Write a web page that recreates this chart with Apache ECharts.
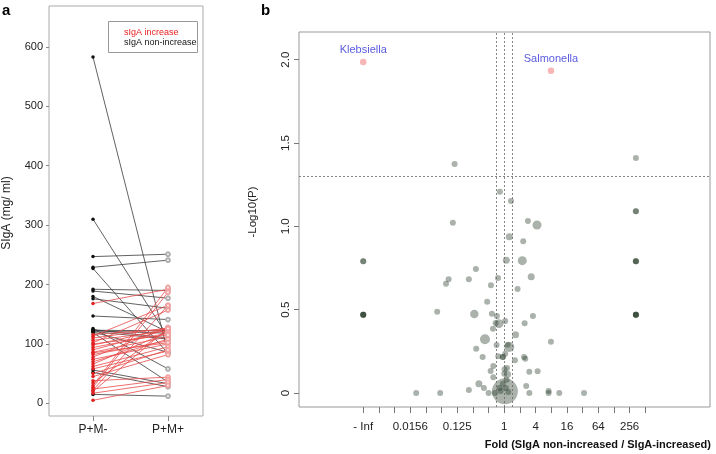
<!DOCTYPE html>
<html><head><meta charset="utf-8">
<script src="https://cdn.jsdelivr.net/npm/echarts@6.0.0/dist/echarts.min.js"></script>
<style>html,body{margin:0;padding:0;background:#fff}#c{width:716px;height:454px}</style>
</head><body><div id="c"></div>
<script>
// ---- Panel a: paired SIgA values (P+M- -> P+M+) ----
const categories = ['P+M-', 'P+M+'];
const nonIncBefore = [583, 310, 247, 229, 227, 192, 189, 180, 176, 147, 126, 124, 123, 122, 121, 119, 120, 56, 52, 15];
const nonIncAfter  = [ 85, 112, 251, 241,  84, 190, 177, 120, 160, 141,  58, 110, 122, 118, 108,  36,  86, 33, 28, 12];
const incBefore = [168, 116, 113, 110, 106, 102, 98, 94, 90, 86, 82, 78, 74, 70, 66, 62, 58, 50, 45, 38, 34, 30, 27, 24, 22, 20, 17, 5, 100, 85];
const incAfter  = [192, 125, 165, 127, 122, 157, 126, 118, 124, 112, 105, 128, 100, 108, 120, 95, 88, 90, 82, 44, 125, 195, 187, 40, 165, 126, 35, 30, 115, 102];
const leftTicks = [0, 100, 200, 300, 400, 500, 600];

// ---- Panel b: volcano-like plot ----
const foldLog2 = [Infinity, -3.17, -0.28, 0.43, Infinity, Infinity, -3.28, 1.51, 2.09, 0.32, 1.21,
  -Infinity, -Infinity, Infinity, Infinity, Infinity, 0.13, 1.15, -1.81, -3.55, -3.72, -2.26, -0.40, 1.72,
  -0.85, 0.85, -1.09, -4.28, -1.91, -Infinity, -Infinity, -Infinity, -Infinity, Infinity, Infinity, Infinity, Infinity,
  -0.79, -0.47, 1.83, 0.06, -0.34, -0.55, 1.30, -0.72, 0.72, -1.23, 2.98, -0.49, 0.32, 0.22, -1.79, -1.38,
  -0.38, -0.09, -0.09, 0.06, 0.68, 1.26, 1.34, -0.70, -0.87, 0.02, 0.21, -0.70, 0.0, 1.60, 2.13, -1.62,
  -2.26, -1.30, 1.40, -5.62, -4.09, -1.0, -0.6, -0.23, 0.26, 1.60, 2.83, 2.83, 3.51, 5.09, 0.04, -0.09, 0.15, -0.3, 0.1, 0.18];
const negLog10P = [1.41, 1.374, 1.208, 1.152, 1.09, 1.09, 1.022, 1.032, 1.008, 0.938, 0.91,
  0.79, 0.79, 0.79, 0.79, 0.79, 0.796, 0.794, 0.744, 0.682, 0.656, 0.682, 0.69, 0.698,
  0.646, 0.624, 0.548, 0.488, 0.474, 0.47, 0.47, 0.47, 0.47, 0.47, 0.47, 0.47, 0.47,
  0.476, 0.462, 0.462, 0.432, 0.416, 0.42, 0.418, 0.386, 0.35, 0.322, 0.308, 0.288, 0.276, 0.29, 0.266, 0.216,
  0.22, 0.216, 0.216, 0.236, 0.196, 0.216, 0.206, 0.162, 0.132, 0.142, 0.112, 0.094, 0.116, 0.128, 0.13, 0.056,
  0.018, 0.03, 0.042, 0, 0, 0, 0, 0.012, 0.006, 0, 0.012, 0, 0, 0, 0.01, 0.056, 0.08, 0.03, 0.03, 0.15];
const pointSize = [6, 6, 6, 6, 6, 6, 6, 6, 9, 7, 6,
  6, 6, 6, 6, 6, 7, 9, 6, 6, 6, 6, 6, 7,
  6, 6, 6, 6, 8.5, 6, 6, 6, 6, 6, 6, 6, 6,
  6, 6, 6, 6, 9, 6, 6, 6, 7, 10, 6, 6, 10, 6, 6, 6,
  6, 6, 6, 6, 6, 6, 6, 6, 6, 6, 7, 6, 6, 6, 6, 7,
  6, 6, 6, 6, 6, 6, 6, 6, 6, 6, 6, 6, 6, 6, 26, 6, 6, 6, 6, 6];
const hiNames = ['Klebsiella', 'Salmonella'];
const hiFold = [-Infinity, 2.98];
const hiP = [1.986, 1.934];
const xTickPos = [-9, -8, -7, -6, -5, -4, -3, -2, -1, 0, 1, 2, 3, 4, 5, 6, 7, 8, 9];
const xLabelText = {'-9': '- Inf', '-6': '0.0156', '-3': '0.125', '0': '1', '2': '4', '4': '16', '6': '64', '8': '256'};
const rightYTicks = [0, 0.5, 1, 1.5, 2];
const sigLine = 1.301;
const foldLines = [-0.5, 0, 0.5];

const NEG_INF_POS = -9, POS_INF_POS = 8.4;
const pos = f => f === -Infinity ? NEG_INF_POS : (f === Infinity ? POS_INF_POS : f);

const FONT = 'Liberation Sans, Arial, sans-serif';
const series = [];
function pairSeries(before, after, lineColor, dotColor, openColor) {
  before.forEach((b, i) => {
    series.push({
      type: 'line', xAxisIndex: 0, yAxisIndex: 0, silent: true, animation: false,
      lineStyle: { color: lineColor, width: 0.8 },
      data: [
        { value: [1, b], symbol: 'circle', symbolSize: 3.5, itemStyle: { color: dotColor } },
        { value: [2, after[i]], symbol: 'emptyCircle', symbolSize: 3.8, itemStyle: { color: openColor, borderWidth: 0.7 } }
      ]
    });
  });
}
pairSeries(nonIncBefore, nonIncAfter, '#3a3a3a', '#111', '#b0b0b0');
pairSeries(incBefore, incAfter, '#e84a4a', '#e02020', '#f2a0a0');

series.push({
  type: 'scatter', xAxisIndex: 1, yAxisIndex: 1, animation: false, silent: true,
  data: foldLog2.map((f, i) => [pos(f), negLog10P[i], pointSize[i]]),
  symbolSize: d => d[2],
  itemStyle: { color: 'rgba(30,50,32,0.47)' },
  markLine: {
    silent: true, symbol: 'none', animation: false, label: { show: false },
    lineStyle: { type: [2, 2], color: '#666', width: 0.8 },
    data: foldLines.map(v => ({ xAxis: v })).concat([{ yAxis: sigLine }])
  }
});
series.push({
  type: 'scatter', xAxisIndex: 1, yAxisIndex: 1, animation: false, silent: true,
  data: hiNames.map((n, i) => ({ name: n, value: [pos(hiFold[i]), hiP[i]] })),
  symbolSize: 6.5,
  itemStyle: { color: '#f6a3a3' },
  label: { show: true, position: 'top', distance: 3, formatter: p => p.name, color: '#3030d8', fontSize: 11, fontFamily: FONT }
});

const option = {
  backgroundColor: '#fff',
  animation: false,
  textStyle: { fontFamily: FONT },
  grid: [
    { left: 49, top: 6, width: 154, height: 410, show: true, borderColor: '#aaa', borderWidth: 1, backgroundColor: 'transparent' },
    { left: 299, top: 32, width: 411, height: 375, show: true, borderColor: '#999', borderWidth: 1, backgroundColor: 'transparent' }
  ],
  xAxis: [
    { gridIndex: 0, type: 'value', min: 0.413, max: 2.467, splitLine: { show: false },
      axisLine: { show: false, onZero: false },
      axisTick: { show: true, length: 5, customValues: [1, 2], lineStyle: { color: '#888' } },
      axisLabel: { customValues: [1, 2], formatter: v => categories[Math.round(v) - 1], fontSize: 12, color: '#222', margin: 8, fontFamily: FONT } },
    { gridIndex: 1, type: 'value', min: -13.1, max: 13.13, splitLine: { show: false },
      axisLine: { show: false, onZero: false },
      axisTick: { show: true, length: 6, customValues: xTickPos, lineStyle: { color: '#777' } },
      axisLabel: { customValues: Object.keys(xLabelText).map(Number), formatter: v => xLabelText[String(Math.round(v))], fontSize: 11.5, color: '#222', margin: 14, fontFamily: FONT } }
  ],
  yAxis: [
    { gridIndex: 0, type: 'value', min: -21.4, max: 669, splitLine: { show: false },
      axisLine: { show: false, onZero: false },
      axisTick: { show: true, length: 3, customValues: leftTicks, lineStyle: { color: '#888' } },
      axisLabel: { customValues: leftTicks, fontSize: 11, color: '#222', margin: 6, fontFamily: FONT } },
    { gridIndex: 1, type: 'value', min: -0.084, max: 2.166, splitLine: { show: false },
      axisLine: { show: false, onZero: false },
      axisTick: { show: true, length: 5, customValues: rightYTicks, lineStyle: { color: '#777' } },
      axisLabel: { customValues: rightYTicks, rotate: 90, formatter: v => v === 0 ? '0' : v.toFixed(1), fontSize: 11.5, color: '#222', margin: 7, fontFamily: FONT } }
  ],
  graphic: [
    { type: 'rect', left: 108, top: 21, shape: { width: 89, height: 31 }, style: { fill: '#fff', stroke: '#999', lineWidth: 1 }, z: 100 },
    { type: 'text', left: 124, top: 28, style: { text: 'sIgA increase', fill: '#e82020', fontSize: 9, fontFamily: FONT }, z: 101 },
    { type: 'text', left: 124, top: 38, style: { text: 'sIgA non-increase', fill: '#111', fontSize: 9, fontFamily: FONT }, z: 101 },
    { type: 'text', x: 7, y: 213, rotation: Math.PI / 2, style: { text: 'SIgA (mg/ ml)', fill: '#222', fontSize: 12, fontFamily: FONT, align: 'center', verticalAlign: 'middle' } },
    { type: 'text', x: 253, y: 212, rotation: Math.PI / 2, style: { text: '-Log10(P)', fill: '#222', fontSize: 11.5, fontFamily: FONT, align: 'center', verticalAlign: 'middle' } },
    { type: 'text', x: 711, y: 445, style: { text: 'Fold (SIgA non-increased / SIgA-increased)', fill: '#111', fontSize: 11, fontWeight: 'bold', fontFamily: FONT, align: 'right', verticalAlign: 'middle' } },
    { type: 'text', x: 2, y: 11, style: { text: 'a', fill: '#000', fontSize: 15, fontWeight: 'bold', fontFamily: FONT, verticalAlign: 'middle' } },
    { type: 'text', x: 261, y: 11, style: { text: 'b', fill: '#000', fontSize: 15, fontWeight: 'bold', fontFamily: FONT, verticalAlign: 'middle' } }
  ],
  series: series
};
const chart = echarts.init(document.getElementById('c'));
chart.setOption(option);
</script>
</body></html>
